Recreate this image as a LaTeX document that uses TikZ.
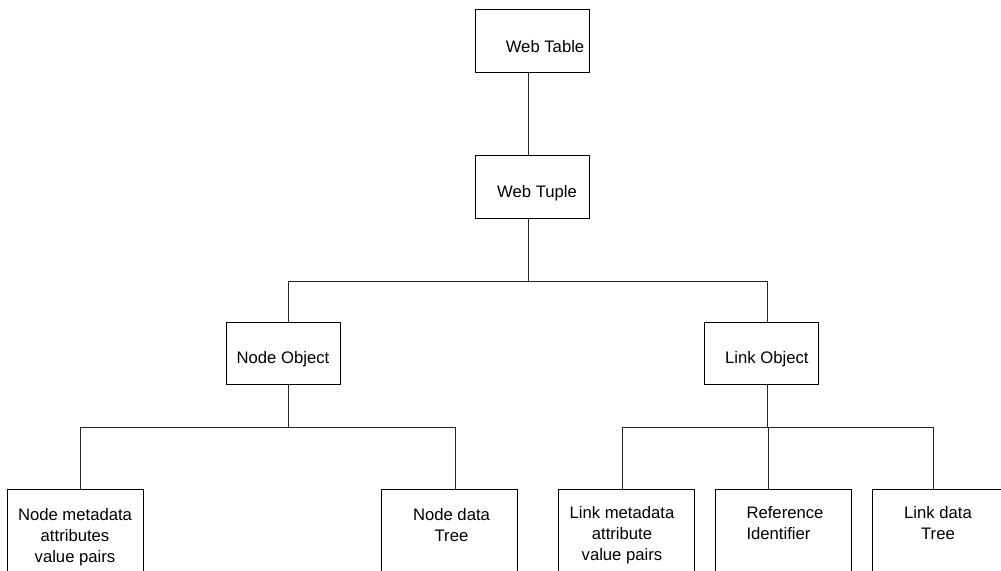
\documentclass[tikz,border=0pt]{standalone}
\usepackage{fontspec}
\setmainfont{Liberation Sans}
\usetikzlibrary{positioning}

\begin{document}
\begin{tikzpicture}[
  x=0.75pt, y=-0.75pt,
  box/.style={draw, line width=0.75pt, inner sep=0pt, minimum width=85.5pt, minimum height=47pt},
  leaf/.style={box, anchor=north, minimum width=102pt, minimum height=90pt},
  txt/.style={font=\fontsize{12.5}{15.75}\selectfont, align=center, inner sep=0pt},
  link/.style={draw, line width=0.75pt, black!85}
]
\useasboundingbox (0,0) rectangle (1001,571);
\clip (0,0) rectangle (1001,571);

% upper levels
\node[box, label={[txt, xshift=9.4pt, yshift=-4.5pt]center:Web Table}] (table) at (532.5,41) {};
\node[box, label={[txt, xshift=3.4pt, yshift=-5pt]center:Web Tuple}] (tuple) at (532.5,187) {};
\node[box, label={[txt, yshift=-4pt]center:Node Object}] (nodeobj) at (283,353.5) {};
\node[box, label={[txt, xshift=4pt, yshift=-4pt]center:Link Object}] (linkobj) at (761.5,353.5) {};

% leaves
\node[leaf, label={[txt, anchor=north, yshift=-14pt]north:Node metadata\\attributes\\value pairs}] (nmeta) at (75,489) {};
\node[leaf, label={[txt, anchor=north, xshift=1.5pt, yshift=-14pt]north:Node data\\Tree}] (ndata) at (449.5,489) {};
\node[leaf, label={[txt, anchor=north, xshift=-3.4pt, yshift=-13pt]north:Link metadata\\attribute\\value pairs}] (lmeta) at (626.5,489) {};
\node[leaf, label={[txt, align=left, anchor=north, xshift=1.5pt, yshift=-13pt]north:Reference\\Identifier}] (ref) at (783,489) {};
\node[leaf, minimum width=108pt, label={[txt, anchor=north, xshift=-4.5pt, yshift=-13pt]north:Link data\\Tree}] (ldata) at (944,489) {};

% buses and taps
\coordinate (busA) at (0,281);
\coordinate (busB) at (0,427);
\coordinate (spine) at (528,0);
\coordinate (tapNO) at (288,0);
\coordinate (tapLO) at (767,0);
\coordinate (tapNM) at (80,0);
\coordinate (tapND) at (455,0);
\coordinate (tapLM) at (622,0);
\coordinate (tapRI) at (768,0);
\coordinate (tapLD) at (933,0);

\draw[link] (spine |- table.south) -- (spine |- tuple.north);
\draw[link] (spine |- tuple.south) -- (spine |- busA);
\draw[link] (tapNO |- nodeobj.north) -- (tapNO |- busA) -- (tapLO |- busA) -- (tapLO |- linkobj.north);

\draw[link] (tapNO |- nodeobj.south) -- (tapNO |- busB);
\draw[link] (tapNM |- nmeta.north) -- (tapNM |- busB) -- (tapND |- busB) -- (tapND |- ndata.north);

\draw[link] (tapLO |- linkobj.south) -- (tapLO |- busB);
\draw[link] (tapLM |- lmeta.north) -- (tapLM |- busB) -- (tapLD |- busB) -- (tapLD |- ldata.north);
\draw[link] (tapRI |- busB) -- (tapRI |- ref.north);
\end{tikzpicture}
\end{document}
